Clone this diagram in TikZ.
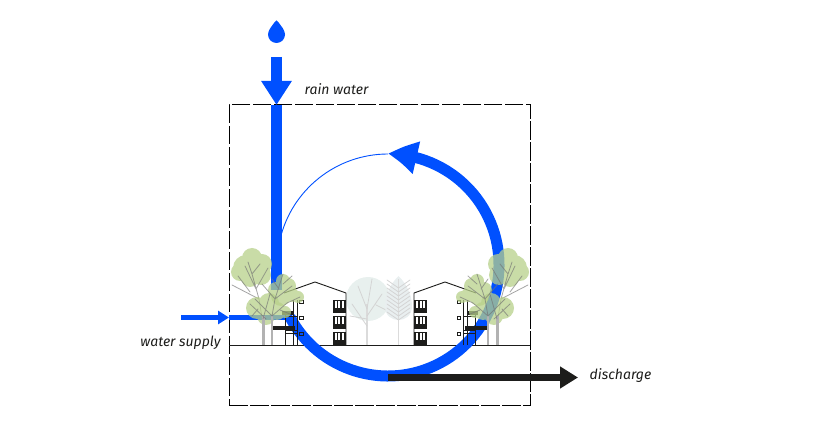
\documentclass[tikz,border=0pt]{standalone}
\usepackage{fontspec}
\setmainfont{Fira Sans}
\usetikzlibrary{arrows.meta,bending,positioning}

\definecolor{waterblue}{HTML}{0050FF}
\definecolor{ink}{HTML}{1D1D1B}
\definecolor{leaf}{HTML}{B7D08A}
\definecolor{paleleaf}{HTML}{E8F0EE}
\definecolor{palepine}{HTML}{E9EFF0}

\tikzset{
	canopy/.style={fill=leaf, fill opacity=0.75},
	twig/.style={draw=black!55, draw opacity=0.65, line width=0.8pt, line cap=round},
	pale twig/.style={draw=black!17, line width=0.8pt, line cap=round},
	estate/.pic={
		% building
		\draw[ink, line width=0.9pt] (284,151) -- (315,162) -- (346,151) -- (346,99);
		\foreach \b in {99,115,131} {
			\fill[ink] (333,\b) rectangle +(13,13);
			\foreach \s in {335,338.3,341.6} {
				\fill[white] (\s,\b+4.5) rectangle +(2,7.5);
			}
		}
		\foreach \w in {110,126,142} {
			\draw[ink, line width=0.9pt] (299.5,\w-1.5) rectangle +(3.5,3.5);
		}
		% stairs
		\draw[ink, line width=0.8pt] (285,99) -- (285,132) (293,99) -- (293,144) (297,99) -- (297,144);
		\draw[ink, line width=0.8pt] (285,114) rectangle (297,128) (285,111) -- (297,111);
		\fill[ink] (272,114) rectangle (295,118);
		\fill[ink] (282,129) rectangle (293,133);
		% big tree
		\path[canopy] (246,176) circle (13) (262,180) circle (10) (252,186) circle (10)
			(240,172) circle (9) (261,169) circle (10) (250,166) circle (9);
		\path[twig] (263,120) -- (259,145) -- (252,170) (259,145) -- (232,159) (256,155) -- (245,178)
			(256,155) -- (268,176) (250,152) -- (238,168) (252,170) -- (248,182) (252,170) -- (260,180);
		% low tree
		\path[canopy] (257,136) circle (11) (269,141) circle (10) (277,133) circle (9)
			(266,128) circle (9) (285,132) circle (6);
		\draw[black!30, line width=3pt] (263,99) -- (263,128);
		\draw[black!30, line width=2.4pt] (272,99) -- (272,128);
		% front tree
		\path[canopy] (283,163) circle (7) (288,158) circle (8) (276,154) circle (8)
			(281,148) circle (10) (292,149) circle (7) (298,147) circle (6);
		\path[twig] (272,128) -- (275,145) -- (283,170) (275,145) -- (292,158) (275,145) -- (262,160)
			(272,128) -- (287,141) -- (300,147) (272,128) -- (255,145) (266,125) -- (250,140)
			(279,155) -- (272,165) (263,125) -- (270,150) (280,134) -- (290,130) (258,135) -- (252,128)
			(283,160) -- (292,168);
	},
}

\begin{document}
\begin{tikzpicture}[x=1pt,y=1pt]
	\tikzstyle{flow}=[draw=waterblue, line width=11pt]
	\tikzstyle{supply}=[draw=waterblue, line width=5pt]
	\tikzstyle{outflow}=[draw=ink, line width=7.5pt]
	\tikzstyle{caption}=[font=\fontsize{14}{14}\selectfont\itshape, text=ink, inner sep=0pt]
	\useasboundingbox (0,0) rectangle (813,444);

	\node (site) at (379.5,188.5) [draw=black, line width=1pt, dash pattern=on 18.5pt off 2.5pt, minimum width=301pt, minimum height=301pt, inner sep=0pt, outer sep=0pt] {};
	\node (ring) at (388,179) [circle, minimum size=222pt, inner sep=0pt, outer sep=0pt] {};

	\coordinate (rain top) at (276.5,387);
	\coordinate (rain in) at (rain top |- site.north);
	\coordinate (rain end) at (276.5,154);
	\coordinate (supply top) at (181,126.5);
	\coordinate (supply in) at (supply top -| site.west);
	\coordinate (supply end) at (292,126.5);
	\coordinate (ground west) at (site.west |- 0,99);
	\coordinate (ground east) at (site.east |- 0,99);
	\coordinate (outflow end) at (578,66.5);
	\coordinate (outflow start) at (ring.south |- outflow end);

	% rain drop
	\fill[waterblue] (274.8,422) .. controls (272,418) and (268,414) .. (268,409.5) arc (180:360:8.5) .. controls (285,414) and (281,418) .. (278.2,422) arc (0:180:1.7) -- cycle;

	\draw[ink, line width=0.9pt] (ground west) -- (ground east);

	% water cycle
	\draw[flow, -{Triangle[length=24pt,width=29pt]}] (rain top) -- (rain in);
	\draw[flow] (rain in) -- (rain end);
	\draw[draw=waterblue, line width=0.9pt] (ring.90) arc (90:167:111);
	\draw[flow, -{Triangle[length=29pt,width=31pt,bend]}] (ring.-152) arc (-152:90:111);
	\draw[supply, -{Triangle[length=11pt,width=13pt]}] (supply top) -- (supply in);
	\draw[supply] (supply in) -- (supply end);

	% back trees
	\fill[paleleaf] (368,145) circle (22);
	\draw[black!14, line width=2pt] (367,99) -- (367,140);
	\path[pale twig] (367,118) -- (352,140) (367,128) -- (382,150) (367,135) -- (358,158) (367,135) -- (372,165) (367,125) -- (350,128) (376,139) -- (386,134);
	\path[fill=palepine] (398.5,168) .. controls (388,158) and (385,145) .. (385,138) .. controls (385,128) and (392,124) .. (398.5,124) .. controls (405,124) and (412,128) .. (412,138) .. controls (412,145) and (409,158) .. (398.5,168) -- cycle;
	\draw[black!14, line width=1.8pt] (398.5,99) -- (398.5,165);
	\foreach \h in {124,128,...,156} {
		\path[pale twig] (398.5,\h) -- (387,\h+8) (398.5,\h) -- (410,\h+8);
	}

	% both ends of the estate
	\pic at (0,0) {estate};
	\begin{scope}[shift={(760,0)},xscale=-1]
		\pic[transform shape] at (0,0) {estate};
	\end{scope}

	\draw[outflow, -{Triangle[length=18pt,width=21pt]}] (outflow start) -- (outflow end);

	\node[caption] (rain label) at (336.5,355) {rain water};
	\node[caption] (supply label) at (180.5,101.5) {water supply};
	\node[caption] (outflow label) at (620.5,68.5) {discharge};
\end{tikzpicture}
\end{document}
